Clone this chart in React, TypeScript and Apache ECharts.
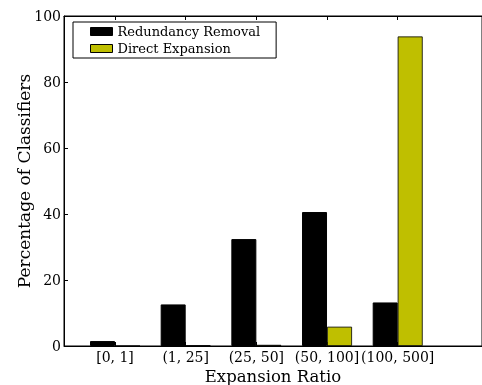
import React, { useEffect, useRef } from "react";
import * as echarts from "echarts";

const categories = ["[0, 1]", "(1, 25]", "(25, 50]", "(50, 100]", "(100, 500]"];
const redundancyRemoval = [1.5, 12.6, 32.4, 40.6, 13.2];
const directExpansion = [0, 0.2, 0.35, 5.85, 93.8];
const yTicks = [0, 20, 40, 60, 80, 100];

const FONT = "DejaVu Serif";

export default function App() {
  const ref = useRef<HTMLDivElement>(null);
  useEffect(() => {
    if (!ref.current) return;
    const chart = echarts.init(ref.current, undefined, { renderer: "svg" });
    const xMin = -0.7217;
    const xMax = 5.193;
    const idx = categories.map((_, i) => i);
    chart.setOption({
      animation: false,
      textStyle: { fontFamily: FONT, color: "#000" },
      grid: {
        left: 64,
        top: 16,
        right: 0,
        bottom: 39,
        show: true,
        borderColor: "#000",
        borderWidth: 1,
        backgroundColor: "transparent",
        containLabel: false,
        outerBoundsMode: "none",
      },
      legend: {
        orient: "vertical",
        left: 73,
        top: 22,
        padding: [3, 16, 3, 17],
        borderColor: "#000",
        borderWidth: 1,
        borderRadius: 0,
        backgroundColor: "#fff",
        itemWidth: 22,
        itemHeight: 8,
        itemGap: 4,
        itemTextGap: 8,
        icon: "rect",
        itemStyle: { borderColor: "#000", borderWidth: 1 },
        textStyle: { fontFamily: FONT, fontSize: 13, color: "#000" },
        data: ["Redundancy Removal", "Direct Expansion"],
      },
      xAxis: [
        {
          type: "value",
          min: xMin,
          max: xMax,
          position: "bottom",
          name: "Expansion Ratio",
          nameLocation: "middle",
          nameGap: 22,
          nameMoveOverlap: false,
          nameTextStyle: { fontFamily: FONT, fontSize: 16.5, color: "#000", lineHeight: 17 },
          axisLine: { show: true, onZero: false, lineStyle: { color: "#000", width: 1 } },
          axisTick: { show: true, inside: true, length: 4, lineStyle: { color: "#000" }, customValues: idx },
          axisLabel: {
            show: true,
            customValues: idx,
            margin: 4,
            fontFamily: FONT,
            fontSize: 14,
            color: "#000",
            formatter: (v: number) => categories[Math.round(v)] ?? "",
          },
          splitLine: { show: false },
        },
        {
          type: "value",
          min: xMin,
          max: xMax,
          position: "top",
          axisLine: { show: true, onZero: false, lineStyle: { color: "#000", width: 1 } },
          axisTick: { show: true, inside: true, length: 4, lineStyle: { color: "#000" }, customValues: idx },
          axisLabel: { show: false },
          splitLine: { show: false },
        },
      ],
      yAxis: [
        {
          type: "value",
          min: 0,
          max: 100,
          interval: 20,
          name: "Percentage of Classifiers",
          nameLocation: "middle",
          nameGap: 30,
          nameMoveOverlap: false,
          nameTextStyle: { fontFamily: FONT, fontSize: 17, color: "#000", lineHeight: 20 },
          axisLine: { show: true, onZero: false, lineStyle: { color: "#000", width: 1 } },
          axisTick: { show: true, inside: true, length: 4, lineStyle: { color: "#000" }, customValues: yTicks },
          axisLabel: { margin: 3, fontFamily: FONT, fontSize: 14, color: "#000" },
          splitLine: { show: false },
        },
      ],
      series: [
        {
          name: "Redundancy Removal",
          type: "bar",
          xAxisIndex: 0,
          barWidth: 25,
          barGap: "0%",
          itemStyle: { color: "#000", borderColor: "#000", borderWidth: 1 },
          data: redundancyRemoval.map((v, i) => [i, v]),
        },
        {
          name: "Direct Expansion",
          type: "bar",
          xAxisIndex: 0,
          barWidth: 25,
          barGap: "0%",
          itemStyle: { color: "#bfbf00", borderColor: "#000", borderWidth: 0.8 },
          data: directExpansion.map((v, i) => [i, v]),
        },
      ],
    });
    return () => chart.dispose();
  }, []);
  return <div ref={ref} style={{ position: "fixed", left: 0, top: 0, width: 482, height: 385 }} />;
}
